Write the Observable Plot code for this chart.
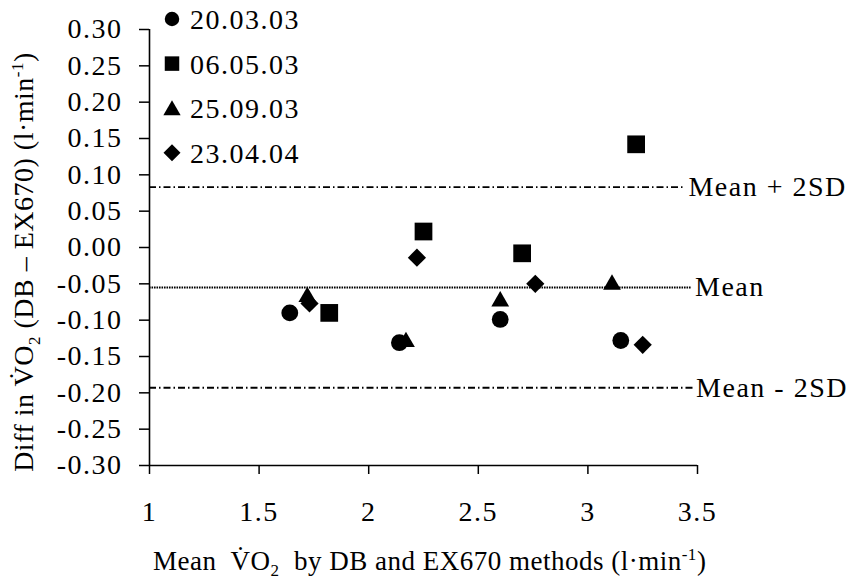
<!DOCTYPE html>
<html><head><meta charset="utf-8">
<script src="https://cdn.jsdelivr.net/npm/d3@7"></script>
<script src="https://cdn.jsdelivr.net/npm/@observablehq/plot@0.6"></script>
<style>
body{margin:0;background:#fff;}
#wrap{position:relative;width:856px;height:581px;font-family:"Liberation Serif","Times New Roman",serif;color:#000;overflow:hidden;}
.ttl{position:absolute;white-space:nowrap;font-size:27px;line-height:30px;text-align:center;letter-spacing:0.5px;}
.ttl sub,.ttl sup{font-size:17px;line-height:0;}
</style></head><body>
<div id="wrap"></div>
<script>
// ---- data ----
const series = ["20.03.03", "06.05.03", "25.09.03", "23.04.04"];
const symbolTypes = ["circle", "square", "triangle", "diamond2"];

const mean_200303 = [1.64, 2.14, 2.60, 3.15];
const diff_200303 = [-0.090, -0.131, -0.099, -0.128];
const mean_060503 = [1.82, 2.25, 2.70, 3.22];
const diff_060503 = [-0.090, 0.022, -0.008, 0.142];
const mean_250903 = [1.72, 2.17, 2.60, 3.11];
const diff_250903 = [-0.068, -0.130, -0.074, -0.051];
const mean_230404 = [1.73, 2.22, 2.76, 3.25];
const diff_230404 = [-0.077, -0.014, -0.050, -0.134];

const xTicks = [1, 1.5, 2, 2.5, 3, 3.5];
const yTicks = [-0.30, -0.25, -0.20, -0.15, -0.10, -0.05, 0.00, 0.05, 0.10, 0.15, 0.20, 0.25, 0.30];

const refLabels = ["Mean + 2SD", "Mean", "Mean - 2SD"];
const refValues = [0.083, -0.055, -0.193];
const refEnds = [3.445, 3.475, 3.48];

// ---- build tables ----
const means = [mean_200303, mean_060503, mean_250903, mean_230404];
const diffs = [diff_200303, diff_060503, diff_250903, diff_230404];
const rows = series.flatMap((s, i) => means[i].map((m, j) => ({series: s, x: m, y: diffs[i][j]})));
const refs = refLabels.map((label, i) => ({label, value: refValues[i], end: refEnds[i]}));

const radii = [8.4, 10, 6.6, 8.2];
const dashes = ["7,3,1.5,3", "1.6,0.9", "7,3,1.5,3"];
const FS = 28;

const chart = Plot.plot({
  width: 856, height: 581,
  marginLeft: 149, marginRight: 159, marginTop: 29, marginBottom: 116,
  x: {domain: [1, 3.5]},
  y: {domain: [-0.30, 0.30]},
  symbol: {domain: series, range: symbolTypes},
  style: {fontFamily: '"Liberation Serif","Times New Roman",serif', fontSize: FS + "px", color: "black", background: "white", letterSpacing: "1.5px"},
  marks: [
    Plot.axisY({ticks: yTicks, tickFormat: d => d.toFixed(2), tickSize: 10, tickPadding: 17, fontSize: FS, label: null, strokeWidth: 1.5}),
    Plot.axisX({ticks: xTicks, tickFormat: d => String(d), tickSize: 9, tickPadding: 27, fontSize: FS, label: null, strokeWidth: 1.5}),
    Plot.ruleX([1], {strokeWidth: 1.6}),
    Plot.ruleY([-0.30], {strokeWidth: 1.6}),
    ...refs.map((r, i) => Plot.ruleY([r], {y: "value", x1: 1, x2: "end", stroke: "black", strokeWidth: i === 1 ? 2 : 1.8, strokeDasharray: dashes[i]})),
    Plot.text(refs, {x: "end", y: "value", text: "label", textAnchor: "start", dx: 3, fontSize: FS, lineAnchor: "middle"}),
    ...series.map((s, i) => Plot.dot(rows.filter(d => d.series === s), {x: "x", y: "y", symbol: "series", r: radii[i], fill: "black", stroke: "none"}))
  ]
});

const wrap = document.getElementById("wrap");
chart.style.position = "absolute";
chart.style.left = "0px";
chart.style.top = "0px";
wrap.appendChild(chart);

// ---- legend ----
const d3Symbols = {circle: d3.symbolCircle, square: d3.symbolSquare, triangle: d3.symbolTriangle, diamond2: d3.symbolDiamond2};
const legendSizes = [165, 210, 130, 185];
const lg = d3.select(wrap).append("svg")
  .attr("width", 160).attr("height", 180)
  .style("position", "absolute").style("left", "150px").style("top", "0px")
  .style("font-family", '"Liberation Serif","Times New Roman",serif')
  .style("font-size", FS + "px").style("letter-spacing", "1.5px");
series.forEach((s, i) => {
  const type = d3Symbols[symbolTypes[i]];
  const g = lg.append("g").attr("transform", `translate(0,${19 + 44.6 * i})`);
  g.append("path").attr("transform", `translate(22,${type === d3.symbolTriangle ? 2 : 0})`).attr("d", d3.symbol(type, legendSizes[i])()).attr("fill", "black");
  g.append("text").attr("x", 40).attr("dy", "0.36em").text(s);
});

// ---- axis titles ----
const xt = document.createElement("div");
xt.className = "ttl";
xt.style.left = "153px"; xt.style.width = "548px"; xt.style.top = "546px";
xt.innerHTML = "Mean&nbsp; V&#775;O<sub>2</sub>&nbsp; by DB and EX670 methods (l&middot;min<sup>-1</sup>)";
wrap.appendChild(xt);

const yt = document.createElement("div");
yt.className = "ttl";
yt.style.fontSize = "28px";
yt.style.width = "540px"; yt.style.left = (24 - 270) + "px"; yt.style.top = (262 - 15) + "px";
yt.style.transform = "rotate(-90deg)";
yt.innerHTML = "Diff in V&#775;O<sub>2</sub> (DB &ndash; EX670) (l&middot;min<sup>-1</sup>)";
wrap.appendChild(yt);
</script>
</body></html>
